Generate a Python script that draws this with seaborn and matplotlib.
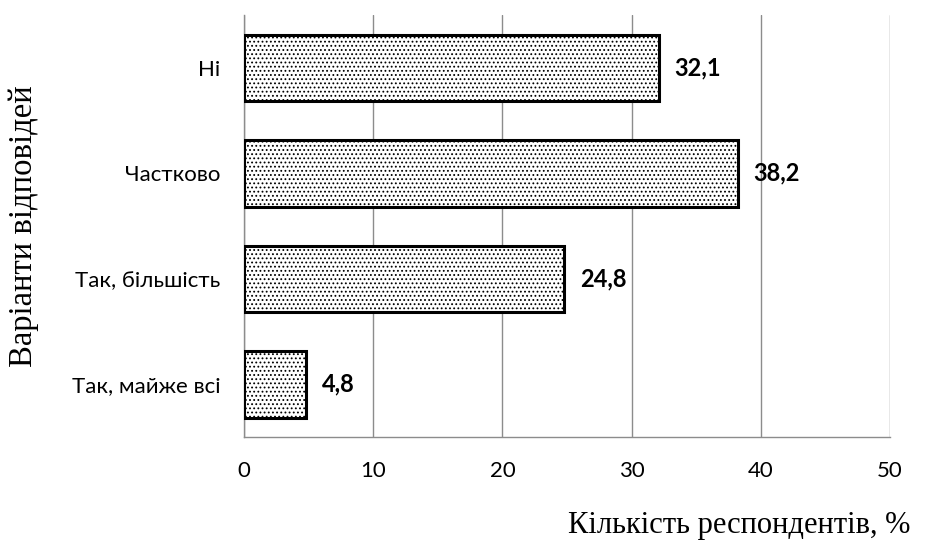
import matplotlib
matplotlib.use("Agg")
import matplotlib.pyplot as plt
import seaborn as sns
import pandas as pd

categories = ["Ні", "Частково", "Так, більшість", "Так, майже всі"]
values = [32.1, 38.2, 24.8, 4.8]
value_labels = ["32,1", "38,2", "24,8", "4,8"]
xticks = [0, 10, 20, 30, 40, 50]

df = pd.DataFrame({"cat": categories, "val": values})

sns.set_style("white")
plt.rcParams["font.family"] = ["Lato", "DejaVu Sans"]
plt.rcParams["text.color"] = "black"
plt.rcParams["axes.labelcolor"] = "black"
plt.rcParams["xtick.labelcolor"] = "black"
plt.rcParams["ytick.labelcolor"] = "black"
plt.rcParams["hatch.linewidth"] = 0.8
plt.rcParams["hatch.color"] = "#808080"

fig = plt.figure(figsize=(9.28, 5.43), dpi=100)
ax = fig.add_axes([0.263, 0.195, 0.696, 0.777])

sns.barplot(data=df, x="val", y="cat", orient="h", color="white",
            edgecolor="black", linewidth=2.2, width=0.63, ax=ax, zorder=3)
for p in ax.patches:
    p.set_hatch("....")
    p.set_edgecolor("black")

ax.set_xlim(0, 50)
ax.set_ylim(3.5, -0.5)
ax.set_xticks(xticks)
ax.set_xticklabels([str(t) for t in xticks], fontsize=16)
ax.grid(axis="x", color="#8c8c8c", linewidth=1.0, zorder=0)
ax.set_axisbelow(True)

ax.set_yticks(range(len(categories)))
ax.set_yticklabels(categories, fontsize=16)
ax.tick_params(axis="y", length=0, pad=17)
ax.set_yticks([-0.5, 0.5, 1.5, 2.5, 3.5], minor=True)
ax.tick_params(axis="y", which="minor", length=7, color="#8c8c8c", direction="out")
ax.tick_params(axis="x", length=9, color="#8c8c8c", direction="out", pad=8)

for s in ["top", "right"]:
    ax.spines[s].set_visible(False)
for s in ["left", "bottom"]:
    ax.spines[s].set_color("#8c8c8c")
    ax.spines[s].set_linewidth(1.0)

for i, (v, lab) in enumerate(zip(values, value_labels)):
    ax.text(v + 1.2, i, lab, va="center", ha="left", fontsize=17,
            fontweight="bold", color="black")

ax.set_xlabel("Кількість респондентів, %", fontsize=22, family="Liberation Serif")
ax.xaxis.set_label_coords(1.031, -0.175)
ax.xaxis.label.set_horizontalalignment("right")
ax.set_ylabel("Варіанти відповідей", fontsize=23.5, family="Liberation Serif")
ax.yaxis.set_label_coords(-0.318, 0.5)

fig.savefig("out.png", dpi=100)
